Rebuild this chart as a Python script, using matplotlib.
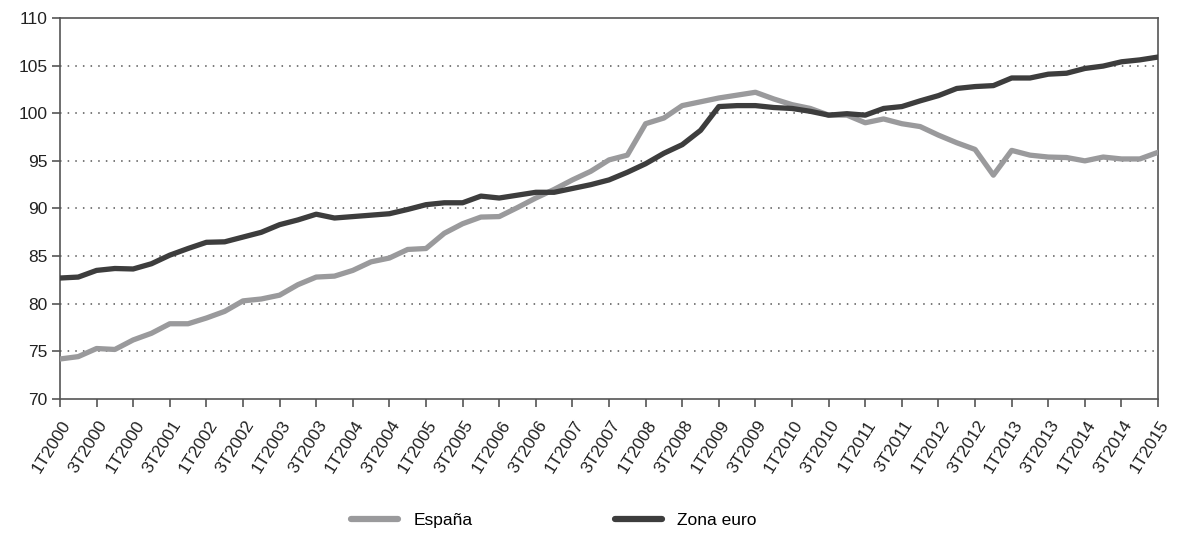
#!/usr/bin/env python3
"""
España vs Zona euro, índice trimestral 1T2000-1T2015
"""
import matplotlib
matplotlib.use("Agg")
import matplotlib.pyplot as plt
import matplotlib.transforms as mtransforms

# --- datos ---
tick_labels = [
    "1T2000", "3T2000", "1T2000", "3T2001", "1T2002", "3T2002", "1T2003", "3T2003",
    "1T2004", "3T2004", "1T2005", "3T2005", "1T2006", "3T2006", "1T2007", "3T2007",
    "1T2008", "3T2008", "1T2009", "3T2009", "1T2010", "3T2010", "1T2011", "3T2011",
    "1T2012", "3T2012", "1T2013", "3T2013", "1T2014", "3T2014", "1T2015",
]

espana = [
    74.2, 74.45, 75.3, 75.2, 76.2, 76.9, 77.9, 77.9, 78.5, 79.2,
    80.3, 80.5, 80.9, 82.0, 82.8, 82.9, 83.5, 84.4, 84.8, 85.7,
    85.8, 87.4, 88.4, 89.1, 89.15, 90.1, 91.1, 92.0, 93.0, 93.9,
    95.1, 95.6, 98.9, 99.5, 100.8, 101.2, 101.6, 101.9, 102.2, 101.5,
    100.9, 100.5, 99.8, 99.8, 99.0, 99.4, 98.9, 98.6, 97.7, 96.9,
    96.2, 93.5, 96.1, 95.6, 95.4, 95.35, 95.0, 95.4, 95.2, 95.2,
    95.9,
]

zona_euro = [
    82.7, 82.8, 83.5, 83.7, 83.65, 84.2, 85.1, 85.8, 86.45, 86.5,
    87.0, 87.5, 88.3, 88.8, 89.4, 89.0, 89.15, 89.3, 89.45, 89.9,
    90.4, 90.6, 90.6, 91.3, 91.1, 91.4, 91.7, 91.7, 92.1, 92.5,
    93.0, 93.8, 94.7, 95.8, 96.7, 98.2, 100.7, 100.8, 100.8, 100.6,
    100.5, 100.2, 99.8, 99.95, 99.8, 100.5, 100.7, 101.3, 101.85, 102.6,
    102.8, 102.9, 103.7, 103.7, 104.1, 104.2, 104.7, 104.95, 105.4, 105.6,
    105.9,
]

# --- gráfico ---
plt.rcParams["font.family"] = ["Liberation Sans", "DejaVu Sans"]

fig = plt.figure(figsize=(11.78, 5.35), dpi=100)
ax = fig.add_axes([0.0509, 0.2542, 0.9322, 0.7122])

x = list(range(len(espana)))
ax.plot(x, espana, color="#9a9a9c", lw=3.8, solid_capstyle="round",
        solid_joinstyle="round", label="España", zorder=3)
ax.plot(x, zona_euro, color="#3d3d3d", lw=3.8, solid_capstyle="round",
        solid_joinstyle="round", label="Zona euro", zorder=4)

ax.set_xlim(0, len(espana) - 1)
ax.set_ylim(70, 110)
ax.set_yticks(range(70, 111, 5))
ax.set_xticks(range(0, len(espana), 2))
ax.set_xticklabels(tick_labels, rotation=58, ha="right", va="center",
                   rotation_mode="anchor")

ax.tick_params(axis="both", direction="out", length=6, width=1.2,
               color="#555555", labelsize=12, labelcolor="#222222")
ax.tick_params(axis="x", pad=9, labelsize=12.5)
ax.tick_params(axis="y", pad=3, labelsize=12.5)

# desplazar etiquetas del eje x a la derecha (como en el original)
offset = mtransforms.ScaledTranslation(0.075, -0.02, fig.dpi_scale_trans)
for lbl in ax.get_xticklabels():
    lbl.set_transform(lbl.get_transform() + offset)

for v in range(75, 110, 5):
    ax.axhline(v, color="#555555", lw=1.1, ls=(0, (1, 4)), zorder=1)

for sp in ax.spines.values():
    sp.set_color("#555555")
    sp.set_linewidth(1.2)

leg = fig.legend(loc="center", bbox_to_anchor=(0.470, 0.028), ncol=2,
                 frameon=False, fontsize=12.5, handlelength=2.7,
                 columnspacing=8.2, handletextpad=0.9)
for line in leg.get_lines():
    line.set_linewidth(4.5)
    line.set_solid_capstyle("round")

fig.savefig("out.png", dpi=100)
